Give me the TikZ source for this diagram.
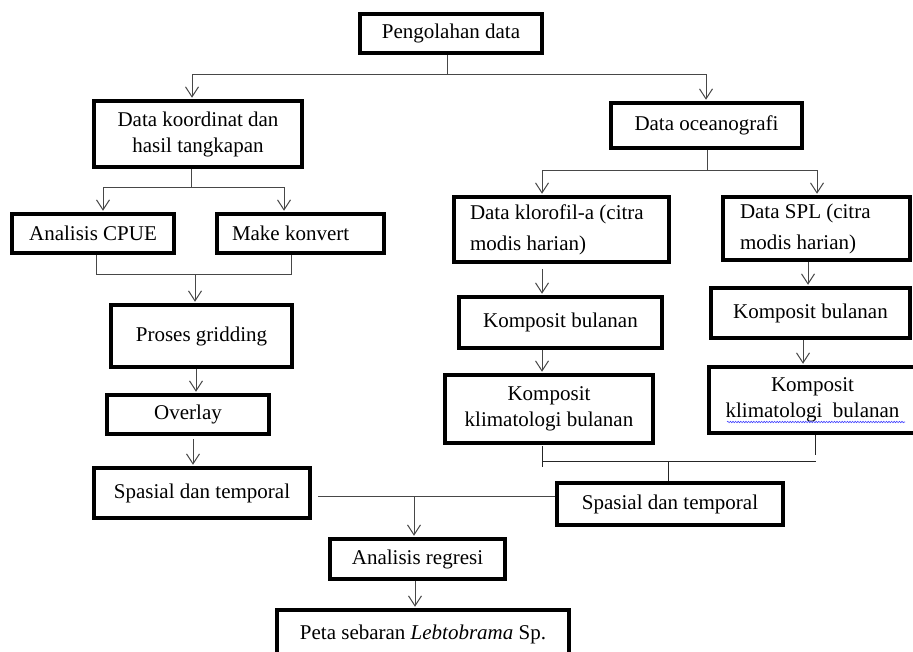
\documentclass[tikz,border=0pt]{standalone}
\usepackage{fontspec}
\setmainfont{Liberation Serif}
\usetikzlibrary{arrows.meta,decorations.pathmorphing}
\newcommand\fs{\fontsize{21}{26}\selectfont}
\newcommand\fsw{\fontsize{21}{31}\selectfont}
\tikzset{
  box/.style={draw, line width=3.5pt, inner sep=0pt, align=center, font=\fs},
  lbox/.style={box, align=flush left},
  conn/.style={draw=black!72, line width=1pt},
  arr/.style={conn, -{Straight Barb[length=10pt,width=13pt]}, shorten >=1.5pt},
}
\begin{document}
\begin{tikzpicture}[x=1pt,y=-1pt]
\fill[white] (0,0) rectangle (913,651);
\useasboundingbox (0,0) rectangle (913,651);

% nodes
\node[box, minimum width=182pt, minimum height=39pt] (pd) at (451,33.5) {Pengolahan data};
\node[box, minimum width=208pt, minimum height=66pt] (dk) at (198,134) {Data koordinat dan\\hasil tangkapan};
\node[box, minimum width=191pt, minimum height=45pt] (do) at (706.5,125.5) {Data oceanografi};
\node[box, minimum width=162pt, minimum height=39pt] (cpue) at (93,233.5) {Analisis CPUE};
\node[lbox, inner xsep=15pt, text width=137pt, minimum height=39pt] (mk) at (300.5,233.5) {Make konvert};
\node[box, minimum width=181pt, minimum height=62pt] (pg) at (201.5,336) {Proses gridding};
\node[box, minimum width=162pt, minimum height=39pt] (ov) at (188,414.5) {Overlay};
\node[box, minimum width=216pt, minimum height=50pt] (sl) at (202,493) {Spasial dan temporal};
\node[box, minimum width=175pt, minimum height=40pt] (ar) at (417.5,559) {Analisis regresi};
\node[box, minimum width=292pt, minimum height=48pt] (ps) at (423,634) {Peta sebaran \textit{Lebtobrama} Sp.};

\node[lbox, font=\fsw, inner xsep=16pt, text width=183pt, minimum height=65pt] (kl) at (561.5,229.5) {Data klorofil-a (citra\\modis harian)};
\node[box, minimum width=203pt, minimum height=51pt] (kb1) at (560.5,322.5) {Komposit bulanan};
\node[box, minimum width=208pt, minimum height=68pt] (kk1) at (549,409) {Komposit\\klimatologi bulanan};
\node[lbox, font=\fsw, inner xsep=17pt, text width=153pt, minimum height=63pt] (spl) at (816.5,228.5) {Data SPL (citra\\modis harian)};
\node[box, minimum width=199pt, minimum height=50pt] (kb2) at (810.5,313) {Komposit bulanan};
\node[box, minimum width=207pt, minimum height=66pt] (kk2) at (812.5,400) {Komposit\\klimatologi\ \ bulanan};
\node[box, minimum width=226pt, minimum height=42pt] (sr) at (670,504) {Spasial dan temporal};

% spell-check underline
\draw[blue!75, line width=0.6pt, decorate, decoration={snake, amplitude=0.7pt, segment length=2.6pt}]
  ([shift={(-85.5,22)}]kk2.center) -- ([shift={(92.5,22)}]kk2.center);

% top split
\coordinate (j1) at (447,74);
\coordinate (a1) at (192,74);
\coordinate (a2) at (706,74);
\draw[conn] (j1 |- pd.south) -- (j1);
\draw[conn] (a1) -- (a2);
\draw[arr] (a1) -- (a1 |- dk.north);
\draw[arr] (a2) -- (a2 |- do.north);

% left split
\coordinate (b0) at (191,187);
\coordinate (b1) at (103,187);
\coordinate (b2) at (284,187);
\draw[conn] (b0 |- dk.south) -- (b0);
\draw[conn] (b1) -- (b2);
\draw[arr] (b1) -- (b1 |- cpue.north);
\draw[arr] (b2) -- (b2 |- mk.north);

% merge to gridding
\coordinate (c1) at (96,274);
\coordinate (c2) at (291,274);
\coordinate (c0) at (195,274);
\draw[conn] (c1 |- cpue.south) -- (c1) -- (c2) -- (c2 |- mk.south);
\draw[arr] (c0) -- (c0 |- pg.north);

\coordinate (d0) at (196,0);
\draw[arr] (d0 |- pg.south) -- (d0 |- ov.north);
\coordinate (e0) at (193,0);
\draw[arr, shorten <=3pt] (e0 |- ov.south) -- (e0 |- sl.north);

% join of spatial boxes
\coordinate (f1) at (318,496);
\coordinate (f0) at (414,496);
\draw[conn] (f1) -- (f1 -| sr.west);
\draw[arr] (f0) -- (f0 |- ar.north);
\coordinate (g0) at (415,0);
\draw[arr] (g0 |- ar.south) -- (g0 |- ps.north);

% right split
\coordinate (h0) at (707,170);
\coordinate (h1) at (542,170);
\coordinate (h2) at (817,170);
\draw[conn] (h0 |- do.south) -- (h0);
\draw[conn] (h1) -- (h2);
\draw[arr] (h1) -- (h1 |- kl.north);
\draw[arr] (h2) -- (h2 |- spl.north);

\coordinate (k0) at (542,0);
\draw[arr, shorten <=5pt] (k0 |- kl.south) -- (k0 |- kb1.north);
\draw[arr] (k0 |- kb1.south) -- (k0 |- kk1.north);
\coordinate (m0) at (808,0);
\draw[arr] (m0 |- spl.south) -- (m0 |- kb2.north);
\coordinate (n0) at (803,0);
\draw[arr] (n0 |- kb2.south) -- (n0 |- kk2.north);

% bottom merge
\coordinate (p1) at (542,461);
\coordinate (p2) at (816,461);
\coordinate (p0) at (668,461);
\coordinate (q0) at (815,455);
\draw[conn, black!85] (p1) -- (p2);
\draw[conn, black!85] ([shift={(0,-15)}]p1) -- ([shift={(0,6)}]p1);
\draw[conn, black!85] (q0 |- kk2.south) -- (q0);
\draw[conn, black!85] (p0) -- (p0 |- sr.north);
\end{tikzpicture}
\end{document}
